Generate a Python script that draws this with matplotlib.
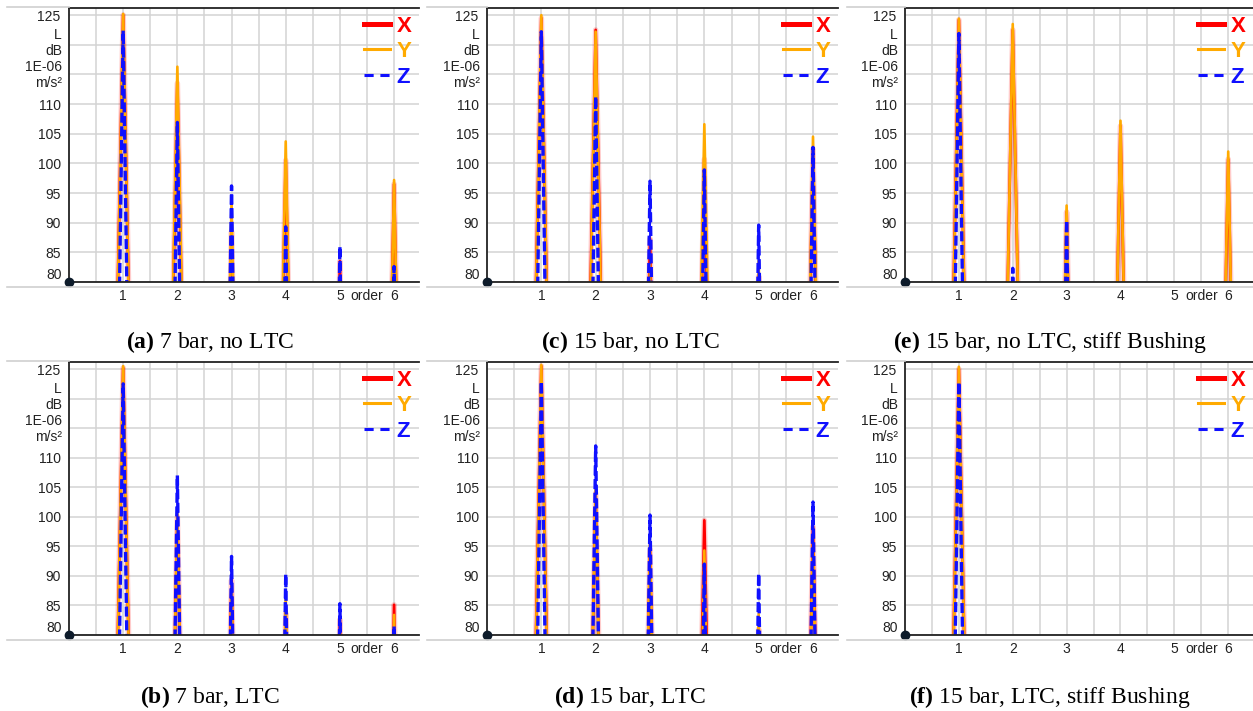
import numpy as np
import matplotlib
matplotlib.use('Agg')
import matplotlib.pyplot as plt
import matplotlib.transforms as mtransforms
from matplotlib.lines import Line2D

plt.rcParams['font.family'] = ['Liberation Sans', 'DejaVu Sans']
plt.rcParams['mathtext.fontset'] = 'custom'
plt.rcParams['mathtext.rm'] = 'Liberation Serif'
plt.rcParams['mathtext.bf'] = 'Liberation Serif:bold'

nan = np.nan

# peak levels (dB) per order
orders = [1, 2, 3, 4, 5, 6]

a_x = [125.0, 113.5, 88.5, 100.5, 83.5, 96.5]
a_y = [125.2, 116.3, 93.5, 103.7, 81.0, 97.2]
a_z = [122.4, 106.9, 96.2, 89.3, 86.0, 82.6]

b_x = [125.2, 100.0, 89.3, 83.7, 82.6, 85.1]
b_y = [125.5, 100.6, 88.8, 87.0, 80.5, 83.4]
b_z = [122.5, 107.0, 93.3, 90.3, 85.3, 81.5]

c_x = [124.5, 122.5, 87.3, 100.7, 81.0, 102.4]
c_y = [125.0, 122.2, 83.0, 106.6, 83.6, 104.5]
c_z = [122.2, 111.3, 97.0, 98.9, 89.6, 102.7]

d_x = [125.5, 104.0, 94.5, 99.4, 81.0, 98.3]
d_y = [125.7, 104.7, 95.8, 94.3, 83.6, 96.6]
d_z = [122.9, 112.0, 100.3, 92.0, 90.4, 102.5]

e_x = [124.2, 122.5, 91.8, 106.3, nan, 100.7]
e_y = [124.4, 123.5, 92.9, 107.2, nan, 102.0]
e_z = [121.9, 82.3, 90.4, nan, nan, nan]

f_x = [125.0, nan, nan, nan, nan, nan]
f_y = [125.4, nan, nan, nan, nan, nan]
f_z = [122.8, nan, nan, nan, nan, nan]

captions = [r'$\mathbf{(a)}$ 7 bar, no LTC', r'$\mathbf{(b)}$ 7 bar, LTC',
            r'$\mathbf{(c)}$ 15 bar, no LTC', r'$\mathbf{(d)}$ 15 bar, LTC',
            r'$\mathbf{(e)}$ 15 bar, no LTC, stiff Bushing',
            r'$\mathbf{(f)}$ 15 bar, LTC, stiff Bushing']
panels = [(a_x, a_y, a_z), (b_x, b_y, b_z), (c_x, c_y, c_z),
          (d_x, d_y, d_z), (e_x, e_y, e_z), (f_x, f_y, f_z)]

RED = '#ff0000'
ORANGE = '#ffaa00'
BLUE = '#1010ff'
W, H = 1253, 711


def spikes(pos, peaks, slope, base=70):
    xs, ys = [], []
    for o, p in zip(pos, peaks):
        if np.isnan(p):
            continue
        w = (p - base) / slope
        xs += [o - w, o, o + w, nan]
        ys += [base, p, base, nan]
    return xs, ys


fig = plt.figure(figsize=(W / 100, H / 100), dpi=100)

cols = [(0, 69, 419), (420, 487, 838), (840, 905, 1253)]
rows = [(8, 282, 342), (362, 635, 697)]

for i, (px, py, pz) in enumerate(panels):
    col = cols[i // 2]
    row = rows[i % 2]
    c0, left, right = col
    top, bot, cap_y = row
    ax = fig.add_axes([left / W, 1 - bot / H, (right - left) / W, (bot - top) / H])

    # frame lines of the widget
    fig.add_artist(Line2D([(c0 + 7) / W, left / W], [1 - (top - 1) / H] * 2,
                          color='#d0d0d0', lw=1.2))
    fig.add_artist(Line2D([(c0 + 7) / W, right / W], [1 - (bot + 5) / H] * 2,
                          color='#d0d0d0', lw=1.2))

    xs, ys = spikes(orders, px, 460)
    ax.plot(xs, ys, color=RED, lw=4, alpha=0.2, solid_joinstyle='round')
    ax.plot(xs, ys, color=RED, lw=2, solid_joinstyle='round')
    xs, ys = spikes(orders, py, 470)
    ax.plot(xs, ys, color=ORANGE, lw=1.9, solid_joinstyle='round')
    xs, ys = spikes(orders, pz, 640)
    ax.plot(xs, ys, color=BLUE, lw=2.4, dashes=(3, 1.1))

    ax.set_xlim(0, 6.46)
    ax.set_ylim(80, 126.2)

    ax.set_xticks(orders)
    ax.set_xticklabels([str(o) for o in orders])
    ax.set_xticks(np.arange(0.5, 6.5, 1), minor=True)
    ax.set_xticklabels(['', '', '', '', '', 'order'], minor=True)
    yt = np.arange(80, 126, 5)
    ax.set_yticks(yt)
    ax.set_yticklabels(['' if v in (80, 115, 120) else str(v) for v in yt])
    ax.tick_params(which='both', length=0, labelsize=10, labelcolor='#222222')
    ax.tick_params(axis='x', which='both', pad=5)
    ax.tick_params(axis='y', pad=6)

    ax.grid(True, which='both', color='#d3d3d3', lw=1.1)
    ax.set_axisbelow(True)
    for s in ['top', 'left', 'bottom']:
        ax.spines[s].set_color('#222222')
        ax.spines[s].set_linewidth(1.3)
    ax.spines['right'].set_visible(False)

    trans = mtransforms.blended_transform_factory(ax.transAxes, ax.transData)
    ax.annotate('80', xy=(0, 80), xycoords=trans, xytext=(-7, 3),
                textcoords='offset pixels', ha='right', va='baseline',
                fontsize=10, color='#222222', annotation_clip=False)
    ax.annotate('L\ndB\n1E-06\nm/s²', xy=(0, 117.6), xycoords=trans,
                xytext=(-7, 0), textcoords='offset pixels', ha='right',
                va='center', multialignment='right', linespacing=1.2,
                fontsize=10, color='#222222', annotation_clip=False)

    ax.plot([0], [80], 'o', color='#0d1b2a', ms=6, clip_on=False, zorder=5)

    handles = [Line2D([], [], color=RED, lw=3.6),
               Line2D([], [], color=ORANGE, lw=2.2),
               Line2D([], [], color=BLUE, lw=2.2, dashes=(3, 2.2))]
    ax.legend(handles, ['X', 'Y', 'Z'], loc='upper right', frameon=False,
              labelcolor=[RED, ORANGE, BLUE],
              prop={'weight': 'bold', 'size': 16}, handlelength=1.15,
              handletextpad=0.3, labelspacing=0.2, borderaxespad=0.1,
              borderpad=0.25)

    fig.text((c0 + (c0 + 420)) / 2 / W, 1 - cap_y / H, captions[i],
             ha='center', va='center', fontsize=17,
             family='Liberation Serif')

fig.savefig('out.png', dpi=100)
